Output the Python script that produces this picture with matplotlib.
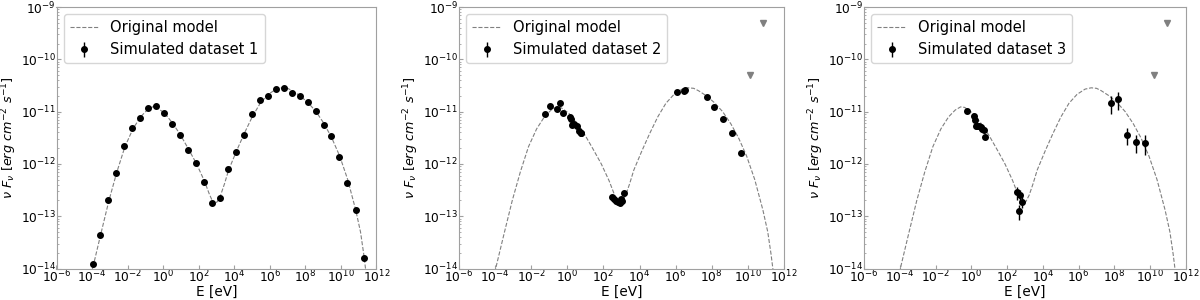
import numpy as np
import matplotlib.pyplot as plt
from matplotlib.ticker import NullFormatter

# Original model (log10 E [eV], log10 nuFnu)
model_loge = [-4.15, -3.92, -3.5, -3.05, -2.6, -2.15, -1.7, -1.27, -0.9, -0.6, -0.37,
              0.08, 0.53, 0.98, 1.43, 1.88, 2.31, 2.6, 2.85, 3.05, 3.23, 3.45, 3.68,
              4.13, 4.56, 5.01, 5.46, 5.91, 6.36, 6.7, 7.0, 7.26, 7.71, 8.15, 8.6,
              9.05, 9.48, 9.93, 10.38, 10.83, 11.1, 11.28, 11.4, 11.5]
model_logf = [-14.3, -13.93, -13.33, -12.70, -12.15, -11.67, -11.33, -11.10, -10.97, -10.91, -10.92,
              -11.03, -11.22, -11.45, -11.72, -12.00, -12.32, -12.58, -12.77, -12.72, -12.60, -12.38, -12.12,
              -11.75, -11.42, -11.10, -10.84, -10.67, -10.57, -10.545, -10.555, -10.60, -10.70, -10.83, -11.00,
              -11.23, -11.50, -11.85, -12.30, -12.88, -13.3, -13.72, -14.05, -14.3]

# Simulated dataset 1
e1_log = [-3.94, -3.53, -3.08, -2.63, -2.18, -1.73, -1.30, -0.83, -0.40, 0.05, 0.50, 0.95,
          1.40, 1.85, 2.29, 2.76, 3.21, 3.66, 4.11, 4.54, 4.99, 5.44, 5.89, 6.35, 6.80,
          7.25, 7.70, 8.13, 8.58, 9.03, 9.46, 9.91, 10.36, 10.82, 11.27]
f1_log = [-13.91, -13.36, -12.69, -12.18, -11.66, -11.32, -11.12, -10.94, -10.89, -11.03, -11.24, -11.45,
          -11.73, -11.98, -12.34, -12.74, -12.65, -12.10, -11.77, -11.44, -11.04, -10.77, -10.71, -10.56, -10.54,
          -10.64, -10.71, -10.82, -10.98, -11.26, -11.46, -11.87, -12.36, -12.89, -13.79]

# Simulated dataset 2
e2_log = [-1.24, -0.95, -0.56, -0.41, -0.23, 0.14, 0.19, 0.27, 0.38, 0.51, 0.65, 0.75, 0.78,
          2.47, 2.58, 2.68, 2.81, 2.90, 2.99, 3.04, 3.14,
          6.06, 6.44, 6.50, 7.73, 8.14, 8.62, 9.11, 9.63]
f2_log = [-11.05, -10.89, -10.95, -10.84, -11.02, -11.11, -11.14, -11.26, -11.24, -11.28, -11.38, -11.41, -11.40,
          -12.63, -12.68, -12.71, -12.72, -12.74, -12.67, -12.70, -12.56,
          -10.62, -10.60, -10.59, -10.73, -10.92, -11.14, -11.40, -11.79]
ul2_loge = [10.84, 10.12]
ul2_logf = [-9.31, -10.30]

# Simulated dataset 3
e3_log = [-0.26, 0.15, 0.20, 0.26, 0.33, 0.44, 0.52, 0.61, 0.71, 0.76,
          2.54, 2.74, 2.83, 2.65,
          7.81, 8.21, 8.70, 9.20, 9.72]
f3_log = [-10.99, -11.08, -11.16, -11.28, -11.27, -11.28, -11.30, -11.33, -11.36, -11.48,
          -12.54, -12.60, -12.72, -12.90,
          -10.84, -10.76, -11.44, -11.59, -11.60]
f3_relerr = [0.03, 0.03, 0.03, 0.03, 0.03, 0.03, 0.03, 0.03, 0.03, 0.03,
             0.28, 0.28, 0.26, 0.32,
             0.37, 0.38, 0.36, 0.38, 0.40]
ul3_loge = [10.92, 10.21]
ul3_logf = [-9.31, -10.30]

model_e = 10.0 ** np.array(model_loge)
model_f = 10.0 ** np.array(model_logf)

datasets = [
    (e1_log, f1_log, [0.03] * len(e1_log), None, None),
    (e2_log, f2_log, [0.03] * len(e2_log), ul2_loge, ul2_logf),
    (e3_log, f3_log, f3_relerr, ul3_loge, ul3_logf),
]

# axes positions in pixels (left, width)
panels = [(56.5, 320), (459, 325), (864, 322)]
W, H = 1200, 300
bottom, top = 268.5, 7

fig = plt.figure(figsize=(12, 3), dpi=100)
spine_col = "#a0a0a0"

for i, ((e_log, f_log, rel, ul_e, ul_f), (left, width)) in enumerate(zip(datasets, panels)):
    ax = fig.add_axes([left / W, (H - bottom) / H, width / W, (bottom - top) / H])
    ax.plot(model_e, model_f, ls="--", lw=0.8, color="gray", label="Original model")
    e = 10.0 ** np.array(e_log)
    f = 10.0 ** np.array(f_log)
    ax.errorbar(e, f, yerr=np.array(rel) * f, fmt="o", color="black", ms=4,
                elinewidth=1, label="Simulated dataset %d" % (i + 1))
    if ul_e is not None:
        ax.plot(10.0 ** np.array(ul_e), 10.0 ** np.array(ul_f), "v", color="gray", ms=4)
    ax.set_xscale("log")
    ax.set_yscale("log")
    ax.set_xlim(1e-6, 1e12)
    ax.set_ylim(1e-14, 1e-9)
    ax.set_xticks([10.0 ** k for k in range(-6, 13, 2)])
    ax.xaxis.set_minor_formatter(NullFormatter())
    ax.yaxis.set_minor_formatter(NullFormatter())
    ax.set_xlabel("E [eV]", fontsize=9.8, labelpad=-1)
    ax.set_ylabel(r"$\nu\ F_{\nu}\ [erg\ cm^{-2}\ s^{-1}]$", fontsize=9.2)
    # right edge of the rotated y label ~38 px left of the spine
    ax.yaxis.set_label_coords(-38.0 / width, 0.5)
    for s in ax.spines.values():
        s.set_color(spine_col)
    ax.tick_params(which="major", length=3)
    ax.tick_params(which="minor", length=1.5)
    ax.tick_params(which="both", direction="in", color=spine_col, labelsize=8.8, pad=0.5)
    ax.legend(loc="upper left", fontsize=10.5)

fig.savefig("out.png", dpi=100)
